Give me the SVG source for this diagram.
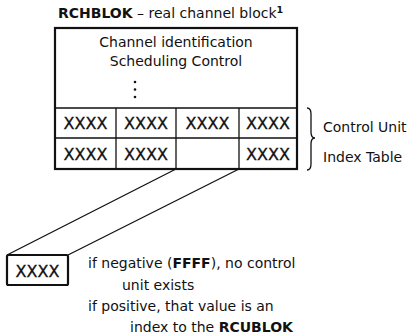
<svg xmlns="http://www.w3.org/2000/svg" width="414" height="335" viewBox="0 0 414 335">
<style>
text{font-family:"DejaVu Sans","Liberation Sans",sans-serif;fill:#111}
.t{font-size:14px}
.x{font-size:16px;text-anchor:middle;stroke:#111;stroke-width:0.3}
.b{font-weight:bold}
.thick{fill:none;stroke:#111;stroke-width:2.2}
.thin{fill:none;stroke:#111;stroke-width:1.3}
</style>
<rect width="414" height="335" fill="#fff"/>
<text class="t" x="58" y="18"><tspan class="b">RCHBLOK</tspan> – real channel block<tspan class="b" font-size="9.5" dy="-5">1</tspan></text>
<g id="rchblok">
<rect class="thick" x="55" y="28" width="242" height="141"/>
<text class="t" x="176" y="47" text-anchor="middle">Channel identification</text>
<text class="t" x="176" y="66" text-anchor="middle">Scheduling Control</text>
<g fill="#111"><circle cx="135" cy="82" r="1.3"/><circle cx="135" cy="89.5" r="1.3"/><circle cx="135" cy="97" r="1.3"/></g>
</g>
<g id="table">
<path class="thin" d="M55 108H297M55 138H297M116 108V169M176 108V169M239 108V169"/>
<text class="x" x="85.5" y="129">XXXX</text>
<text class="x" x="146" y="129">XXXX</text>
<text class="x" x="207.5" y="129">XXXX</text>
<text class="x" x="268" y="129">XXXX</text>
<text class="x" x="85.5" y="159.5">XXXX</text>
<text class="x" x="146" y="159.5">XXXX</text>
<text class="x" x="268" y="159.5">XXXX</text>
</g>
<g id="brace">
<path class="thin" d="M307 108Q311 108 311 114V132Q311 138 315 138Q311 138 311 144V164Q311 170 307 170"/>
<text class="t" x="323" y="132">Control Unit</text>
<text class="t" x="323" y="162">Index Table</text>
</g>
<g id="connectors">
<path class="thin" d="M176 169L7 255M239 169L68 255"/>
</g>
<g id="entry">
<rect class="thick" x="7" y="255" width="61" height="30" rx="1.5"/>
<text class="x" x="37.5" y="277">XXXX</text>
</g>
<g id="notes">
<text class="t" x="88" y="268">if negative (<tspan class="b">FFFF</tspan>), no control</text>
<text class="t" x="122" y="290">unit exists</text>
<text class="t" x="88" y="311">if positive, that value is an</text>
<text class="t" x="130" y="332">index to the <tspan class="b">RCUBLOK</tspan></text>
</g>
</svg>
